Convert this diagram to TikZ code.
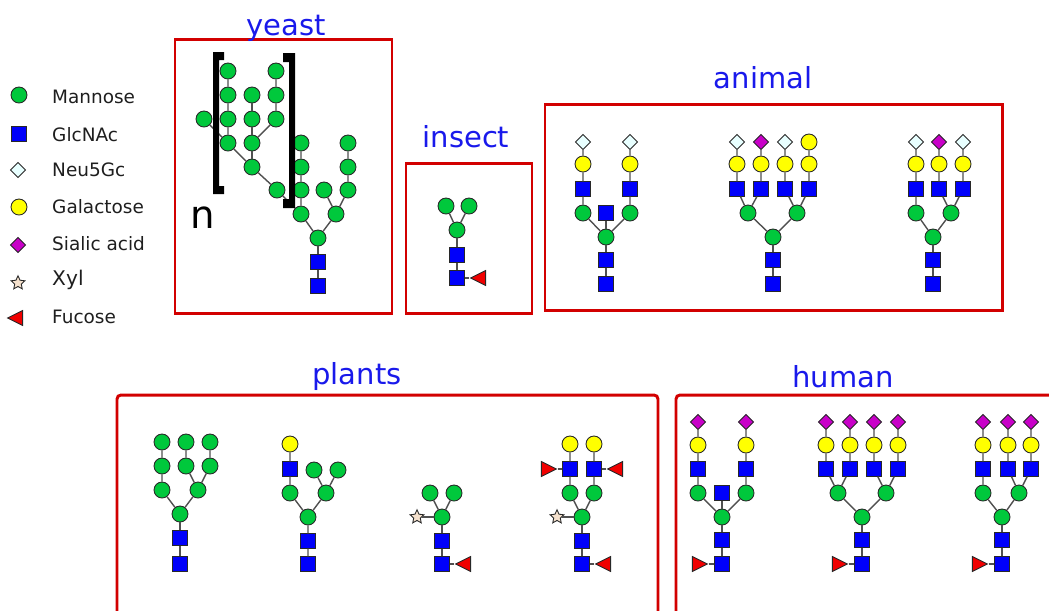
\documentclass[tikz,border=0pt]{standalone}
\usepackage{fontspec}
\setmainfont{DejaVu Sans}
\usetikzlibrary{shapes.geometric}
\definecolor{manc}{RGB}{0,200,60}
\definecolor{glcc}{RGB}{0,0,250}
\definecolor{neuc}{RGB}{232,255,255}
\definecolor{galc}{RGB}{255,255,0}
\definecolor{siac}{RGB}{200,0,200}
\definecolor{xylc}{RGB}{245,225,205}
\definecolor{fucc}{RGB}{240,0,0}
\definecolor{boxc}{RGB}{210,0,0}
\definecolor{titlec}{RGB}{25,25,235}
\definecolor{linkc}{RGB}{80,80,80}
\tikzset{
  sugar/.style={draw={rgb,255:red,40;green,40;blue,40}, line width=0.5pt, inner sep=0pt},
  man/.style={sugar, circle, fill=manc, minimum size=0.32cm},
  gal/.style={sugar, circle, fill=galc, minimum size=0.32cm},
  glc/.style={sugar, rectangle, fill=glcc, minimum size=0.29cm},
  neu/.style={sugar, diamond, fill=neuc, minimum size=0.31cm},
  sia/.style={sugar, diamond, fill=siac, minimum size=0.31cm},
  xyl/.style={sugar, star, star points=5, star point ratio=2.1, fill=xylc, minimum size=0.29cm},
  fucr/.style={sugar, isosceles triangle, isosceles triangle stretches, fill=fucc, minimum width=0.3cm, minimum height=0.3cm},
  fucl/.style={fucr, shape border rotate=180},
  link/.style={draw=linkc, line width=0.8pt},
  groupbox/.style={draw=boxc, line width=1.7pt},
  grouptitle/.style={text=titlec, font=\fontsize{16.5}{18}\selectfont, anchor=base},
  legendtext/.style={anchor=base west, font=\fontsize{10.5}{12}\selectfont, text={rgb,255:red,30;green,30;blue,30}}
}
\begin{document}
\begin{tikzpicture}[x=0.02cm,y=-0.02cm]
\useasboundingbox (0,0) rectangle (1049,610);

% Legend
\node[man] (lman) at (19,95) {};
\node[glc] (lglc) at (19,134) {};
\node[neu] (lneu) at (18,170) {};
\node[gal] (lgal) at (19,207) {};
\node[sia] (lsia) at (18,245) {};
\node[xyl] (lxyl) at (18,283) {};
\node[fucl] (lfuc) at (18,318) {};
\node[legendtext] (tman) at (46,103) {Mannose};
\node[legendtext] (tglc) at (46,141) {GlcNAc};
\node[legendtext] (tneu) at (46,176) {Neu5Gc};
\node[legendtext] (tgal) at (46,213) {Galactose};
\node[legendtext] (tsia) at (46,250) {Sialic acid};
\node[legendtext, font=\fontsize{11.5}{13}\selectfont] (txyl) at (46,285) {Xyl};
\node[legendtext] (tfuc) at (46,323) {Fucose};

% Group boxes and titles
\draw[groupbox] (175,39) rectangle (392,313);
\draw[groupbox] (406,163) rectangle (532,313);
\draw[groupbox] (545,104) rectangle (1002,310);
\draw[groupbox, rounded corners=0.08cm] (117,395) rectangle (658,640);
\draw[groupbox, rounded corners=0.08cm] (676,395) rectangle (1070,640);
\node[grouptitle] (tyeast) at (286,35) {yeast};
\node[grouptitle] (tinsect) at (466,147) {insect};
\node[grouptitle] (tanimal) at (763,88) {animal};
\node[grouptitle] (tplants) at (357,384) {plants};
\node[grouptitle] (thuman) at (843,387) {human};

% Yeast
\node[man] (ym1) at (228,71) {};
\node[man] (ym2) at (276,71) {};
\node[man] (ym3) at (228,95) {};
\node[man] (ym4) at (252,95) {};
\node[man] (ym5) at (276,95) {};
\node[man] (ym6) at (204,119) {};
\node[man] (ym7) at (228,119) {};
\node[man] (ym8) at (252,119) {};
\node[man] (ym9) at (276,119) {};
\node[man] (ym10) at (228,143) {};
\node[man] (ym11) at (252,143) {};
\node[man] (ym12) at (301,143) {};
\node[man] (ym13) at (348,143) {};
\node[man] (ym14) at (252,167) {};
\node[man] (ym15) at (301,167) {};
\node[man] (ym16) at (348,167) {};
\node[man] (ym17) at (277,190) {};
\node[man] (ym18) at (301,190) {};
\node[man] (ym19) at (324,190) {};
\node[man] (ym20) at (348,190) {};
\node[man] (ym21) at (301,214) {};
\node[man] (ym22) at (336,214) {};
\node[man] (ym23) at (318,238) {};
\node[glc] (yg1) at (318,262) {};
\node[glc] (yg2) at (318,286) {};
\draw[link] (ym1) -- (ym3) -- (ym7) -- (ym10) -- (ym14);
\draw[link] (ym4) -- (ym8) -- (ym11) -- (ym14);
\draw[link] (ym2) -- (ym5) -- (ym9) -- (ym11);
\draw[link] (ym6) -- (ym10);
\draw[link] (ym14) -- (ym17) -- (ym21);
\draw[link] (ym12) -- (ym15) -- (ym18) -- (ym21) -- (ym23);
\draw[link] (ym13) -- (ym16) -- (ym20) -- (ym22) -- (ym23);
\draw[link] (ym19) -- (ym22);
\draw[link] (ym23) -- (yg1) -- (yg2);
% Repeat brackets
\fill (213,52) -- (224,52) -- (224,60) -- (219,60) -- (219,186) -- (224,186) -- (224,194) -- (213,194) -- cycle;
\fill (283,53) -- (295,53) -- (295,208) -- (283,208) -- (283,199) -- (289,199) -- (289,62) -- (283,62) -- cycle;
\node[font=\fontsize{22}{24}\selectfont] (nrep) at (203,218) {n};

% Insect
\node[man] (im1) at (446,206) {};
\node[man] (im2) at (469,206) {};
\node[man] (im3) at (457,230) {};
\node[glc] (ig1) at (457,255) {};
\node[glc] (ig2) at (457,278) {};
\node[fucl] (if1) at (481,278) {};
\draw[link] (im1) -- (im3) -- (im2);
\draw[link] (im3) -- (ig1) -- (ig2) -- (if1);

% Animal, structure 1
\node[neu] (an1) at (583,142) {};
\node[neu] (an2) at (630,142) {};
\node[gal] (agal1) at (583,164) {};
\node[gal] (agal2) at (630,164) {};
\node[glc] (ag1) at (583,189) {};
\node[glc] (ag2) at (630,189) {};
\node[man] (am1) at (583,213) {};
\node[man] (am2) at (630,213) {};
\node[glc] (ag3) at (606,213) {};
\node[man] (am3) at (606,237) {};
\node[glc] (ag4) at (606,260) {};
\node[glc] (ag5) at (606,284) {};
\draw[link] (an1) -- (agal1) -- (ag1) -- (am1) -- (am3);
\draw[link] (an2) -- (agal2) -- (ag2) -- (am2) -- (am3);
\draw[link] (ag3) -- (am3) -- (ag4) -- (ag5);

% Animal, structure 2
\node[neu] (bn1) at (737,142) {};
\node[sia] (bs1) at (761,142) {};
\node[neu] (bn2) at (785,142) {};
\node[gal] (bgal0) at (809,142) {};
\node[gal] (bgal1) at (737,164) {};
\node[gal] (bgal2) at (761,164) {};
\node[gal] (bgal3) at (785,164) {};
\node[gal] (bgal4) at (809,164) {};
\node[glc] (bg1) at (737,189) {};
\node[glc] (bg2) at (761,189) {};
\node[glc] (bg3) at (785,189) {};
\node[glc] (bg4) at (809,189) {};
\node[man] (bm1) at (748,213) {};
\node[man] (bm2) at (797,213) {};
\node[man] (bm3) at (773,237) {};
\node[glc] (bg5) at (773,260) {};
\node[glc] (bg6) at (773,284) {};
\draw[link] (bn1) -- (bgal1) -- (bg1) -- (bm1);
\draw[link] (bs1) -- (bgal2) -- (bg2) -- (bm1);
\draw[link] (bn2) -- (bgal3) -- (bg3) -- (bm2);
\draw[link] (bgal0) -- (bgal4) -- (bg4) -- (bm2);
\draw[link] (bm1) -- (bm3) -- (bm2);
\draw[link] (bm3) -- (bg5) -- (bg6);

% Animal, structure 3
\node[neu] (cn1) at (916,142) {};
\node[sia] (cs1) at (939,142) {};
\node[neu] (cn2) at (963,142) {};
\node[gal] (cgal1) at (916,164) {};
\node[gal] (cgal2) at (939,164) {};
\node[gal] (cgal3) at (963,164) {};
\node[glc] (cg1) at (916,189) {};
\node[glc] (cg2) at (939,189) {};
\node[glc] (cg3) at (963,189) {};
\node[man] (cm1) at (916,213) {};
\node[man] (cm2) at (951,213) {};
\node[man] (cm3) at (933,237) {};
\node[glc] (cg4) at (933,260) {};
\node[glc] (cg5) at (933,284) {};
\draw[link] (cn1) -- (cgal1) -- (cg1) -- (cm1) -- (cm3);
\draw[link] (cs1) -- (cgal2) -- (cg2) -- (cm2);
\draw[link] (cn2) -- (cgal3) -- (cg3) -- (cm2) -- (cm3);
\draw[link] (cm3) -- (cg4) -- (cg5);

% Plants, structure 1
\node[man] (pm1) at (162,442) {};
\node[man] (pm2) at (186,442) {};
\node[man] (pm3) at (210,442) {};
\node[man] (pm4) at (162,466) {};
\node[man] (pm5) at (186,466) {};
\node[man] (pm6) at (210,466) {};
\node[man] (pm7) at (162,490) {};
\node[man] (pm8) at (198,490) {};
\node[man] (pm9) at (180,514) {};
\node[glc] (pg1) at (180,538) {};
\node[glc] (pg2) at (180,564) {};
\draw[link] (pm1) -- (pm4) -- (pm7) -- (pm9);
\draw[link] (pm2) -- (pm5) -- (pm8);
\draw[link] (pm3) -- (pm6) -- (pm8) -- (pm9);
\draw[link] (pm9) -- (pg1) -- (pg2);

% Plants, structure 2
\node[gal] (qgal) at (290,444) {};
\node[glc] (qg1) at (290,469) {};
\node[man] (qm1) at (314,470) {};
\node[man] (qm2) at (338,470) {};
\node[man] (qm3) at (290,493) {};
\node[man] (qm4) at (326,493) {};
\node[man] (qm5) at (308,517) {};
\node[glc] (qg2) at (308,541) {};
\node[glc] (qg3) at (308,564) {};
\draw[link] (qgal) -- (qg1) -- (qm3) -- (qm5);
\draw[link] (qm1) -- (qm4) -- (qm2);
\draw[link] (qm4) -- (qm5) -- (qg2) -- (qg3);

% Plants, structure 3
\node[man] (rm1) at (430,493) {};
\node[man] (rm2) at (454,493) {};
\node[man] (rm3) at (442,517) {};
\node[xyl] (rx) at (417,517) {};
\node[glc] (rg1) at (442,541) {};
\node[glc] (rg2) at (442,564) {};
\node[fucl] (rf) at (466,564) {};
\draw[link] (rm1) -- (rm3) -- (rm2);
\draw[link] (rx) -- (rm3) -- (rg1) -- (rg2) -- (rf);

% Plants, structure 4
\node[gal] (tgal1) at (570,444) {};
\node[gal] (tgal2) at (594,444) {};
\node[glc] (tg1) at (570,469) {};
\node[glc] (tg2) at (594,469) {};
\node[fucr] (tf1) at (546,469) {};
\node[fucl] (tf2) at (618,469) {};
\node[man] (tm1) at (570,493) {};
\node[man] (tm2) at (594,493) {};
\node[man] (tm3) at (582,517) {};
\node[xyl] (tx) at (557,517) {};
\node[glc] (tg3) at (582,541) {};
\node[glc] (tg4) at (582,564) {};
\node[fucl] (tf3) at (606,564) {};
\draw[link] (tgal1) -- (tg1) -- (tm1) -- (tm3);
\draw[link] (tgal2) -- (tg2) -- (tm2) -- (tm3);
\draw[link] (tf1) -- (tg1);
\draw[link] (tg2) -- (tf2);
\draw[link] (tx) -- (tm3) -- (tg3) -- (tg4) -- (tf3);

% Human, structure 1
\node[sia] (hs1) at (698,422) {};
\node[sia] (hs2) at (746,422) {};
\node[gal] (hgal1) at (698,445) {};
\node[gal] (hgal2) at (746,445) {};
\node[glc] (hg1) at (698,469) {};
\node[glc] (hg2) at (746,469) {};
\node[man] (hm1) at (698,493) {};
\node[man] (hm2) at (746,493) {};
\node[glc] (hg3) at (722,493) {};
\node[man] (hm3) at (722,517) {};
\node[glc] (hg4) at (722,540) {};
\node[glc] (hg5) at (722,564) {};
\node[fucr] (hf) at (697,564) {};
\draw[link] (hs1) -- (hgal1) -- (hg1) -- (hm1) -- (hm3);
\draw[link] (hs2) -- (hgal2) -- (hg2) -- (hm2) -- (hm3);
\draw[link] (hg3) -- (hm3) -- (hg4) -- (hg5);
\draw[link] (hf) -- (hg5);

% Human, structure 2
\node[sia] (ks1) at (826,422) {};
\node[sia] (ks2) at (850,422) {};
\node[sia] (ks3) at (874,422) {};
\node[sia] (ks4) at (898,422) {};
\node[gal] (kgal1) at (826,445) {};
\node[gal] (kgal2) at (850,445) {};
\node[gal] (kgal3) at (874,445) {};
\node[gal] (kgal4) at (898,445) {};
\node[glc] (kg1) at (826,469) {};
\node[glc] (kg2) at (850,469) {};
\node[glc] (kg3) at (874,469) {};
\node[glc] (kg4) at (898,469) {};
\node[man] (km1) at (838,493) {};
\node[man] (km2) at (886,493) {};
\node[man] (km3) at (862,517) {};
\node[glc] (kg5) at (862,540) {};
\node[glc] (kg6) at (862,564) {};
\node[fucr] (kf) at (837,564) {};
\draw[link] (ks1) -- (kgal1) -- (kg1) -- (km1);
\draw[link] (ks2) -- (kgal2) -- (kg2) -- (km1);
\draw[link] (ks3) -- (kgal3) -- (kg3) -- (km2);
\draw[link] (ks4) -- (kgal4) -- (kg4) -- (km2);
\draw[link] (km1) -- (km3) -- (km2);
\draw[link] (km3) -- (kg5) -- (kg6);
\draw[link] (kf) -- (kg6);

% Human, structure 3
\node[sia] (ws1) at (983,422) {};
\node[sia] (ws2) at (1008,422) {};
\node[sia] (ws3) at (1031,422) {};
\node[gal] (wgal1) at (983,445) {};
\node[gal] (wgal2) at (1008,445) {};
\node[gal] (wgal3) at (1031,445) {};
\node[glc] (wg1) at (983,469) {};
\node[glc] (wg2) at (1008,469) {};
\node[glc] (wg3) at (1031,469) {};
\node[man] (wm1) at (983,493) {};
\node[man] (wm2) at (1019,493) {};
\node[man] (wm3) at (1002,517) {};
\node[glc] (wg4) at (1002,540) {};
\node[glc] (wg5) at (1002,564) {};
\node[fucr] (wf) at (977,564) {};
\draw[link] (ws1) -- (wgal1) -- (wg1) -- (wm1) -- (wm3);
\draw[link] (ws2) -- (wgal2) -- (wg2) -- (wm2);
\draw[link] (ws3) -- (wgal3) -- (wg3) -- (wm2) -- (wm3);
\draw[link] (wm3) -- (wg4) -- (wg5);
\draw[link] (wf) -- (wg5);
\end{tikzpicture}
\end{document}
